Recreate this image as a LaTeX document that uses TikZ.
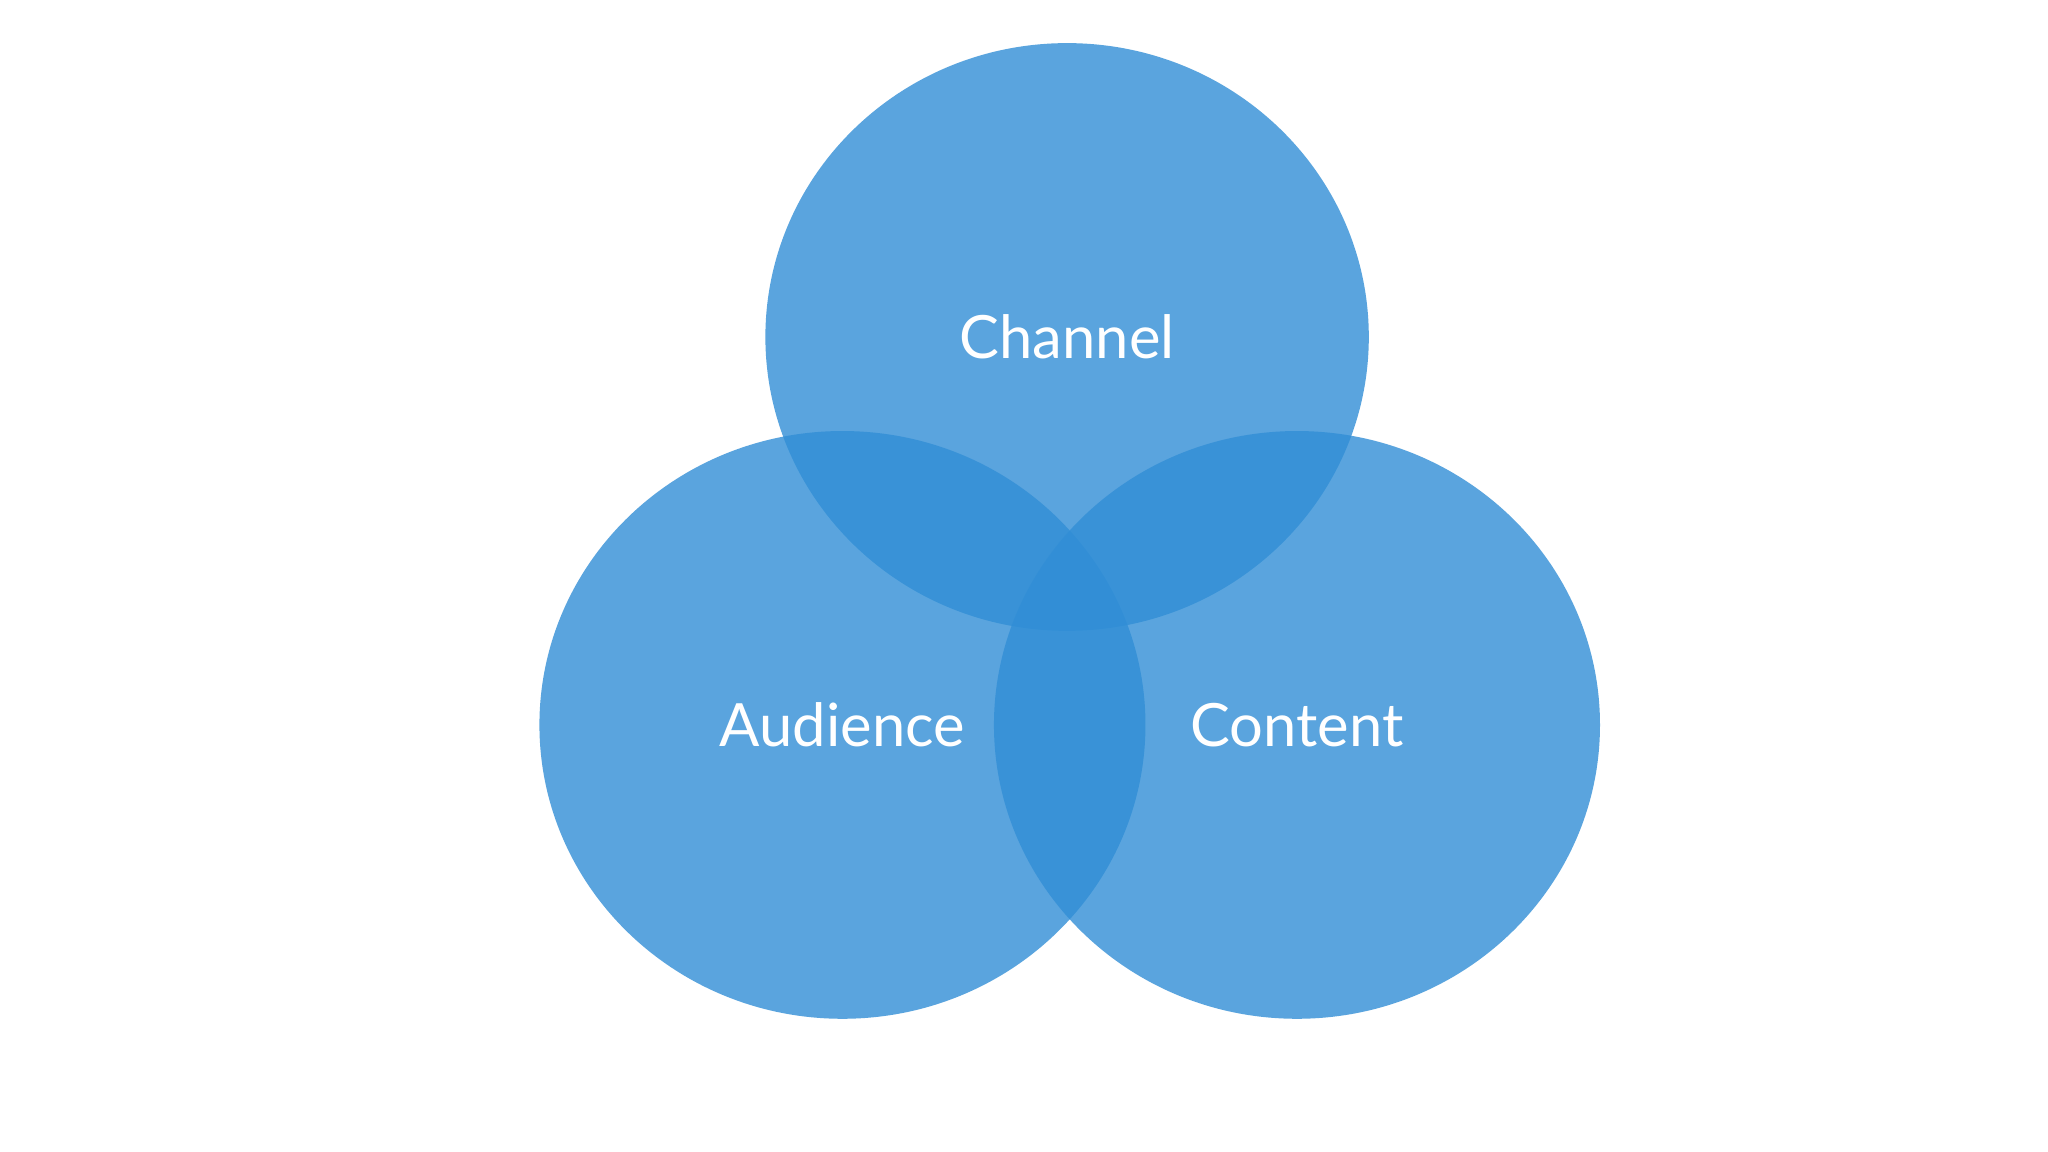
\documentclass[tikz,border=0pt]{standalone}
\usepackage{fontspec}
\setmainfont{Lato}
\definecolor{vb}{RGB}{49,142,214}
\begin{document}
\begin{tikzpicture}[x=0.1mm,y=-0.1mm,
  venn/.style={ellipse, fill=vb, fill opacity=0.8, draw=none},
  lbl/.style={text=white, font=\fontsize{13pt}{15pt}\selectfont}]
\useasboundingbox[fill=white] (0,0) rectangle (1568,882);
\fill[vb, opacity=0.8] (817,258) ellipse [x radius=231, y radius=225];
\fill[vb, opacity=0.8] (645,555) ellipse [x radius=232, y radius=225];
\fill[vb, opacity=0.8] (993,555) ellipse [x radius=232, y radius=225];
\node[lbl] (ch) at (817,258) {Channel};
\node[lbl] (au) at (645,555) {Audience};
\node[lbl] (co) at (993,555) {Content};
\end{tikzpicture}
\end{document}
